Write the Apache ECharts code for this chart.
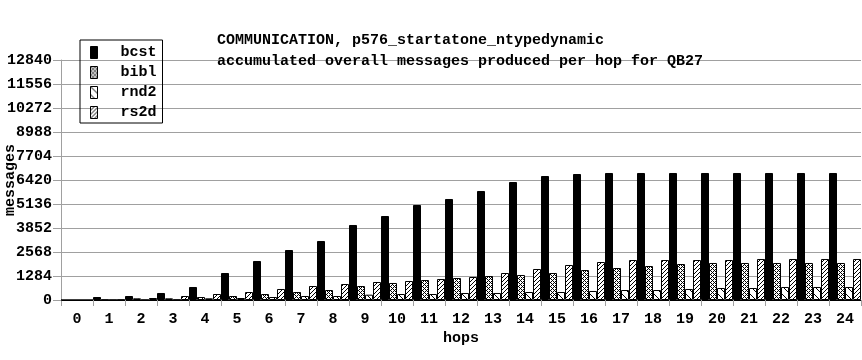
<!DOCTYPE html>
<html>
<head>
<meta charset="utf-8">
<script src="https://cdn.jsdelivr.net/npm/echarts@6/dist/echarts.min.js"></script>
<style>html,body{margin:0;padding:0;background:#fff}#c{width:862px;height:360px}</style>
</head>
<body>
<div id="c"></div>
<script>
const categories = ['0','1','2','3','4','5','6','7','8','9','10','11','12','13','14','15','16','17','18','19','20','21','22','23','24'];
const seriesNames = ['bcst','bibl','rnd2','rs2d'];
const bcst = [0,160,214,375,696,1444,2087,2675,3157,4013,4494,5083,5404,5832,6313,6634,6741,6795,6795,6795,6795,6795,6795,6795,6795];
const bibl = [0,20,90,90,160,214,321,428,535,749,910,1070,1177,1284,1338,1444,1605,1712,1819,1926,1980,1980,1980,1980,1980];
const rnd2 = [0,10,10,20,90,107,160,214,214,285,321,321,375,375,428,428,482,535,535,589,642,642,696,696,696];
const rs2d = [0,20,107,214,321,428,589,749,856,963,1017,1124,1231,1444,1659,1873,2033,2140,2140,2140,2140,2194,2194,2194,2194];
const yTicks = [0,1284,2568,3852,5136,6420,7704,8988,10272,11556,12840];
const titleLines = ['COMMUNICATION, p576_startatone_ntypedynamic','accumulated overall messages produced per hop for QB27'];

const FONT = 'Liberation Mono';

function makePattern(size, test) {
  const cv = document.createElement('canvas');
  cv.width = size; cv.height = size;
  const ctx = cv.getContext('2d');
  ctx.fillStyle = '#fff';
  ctx.fillRect(0,0,size,size);
  ctx.fillStyle = '#000';
  for (let x = 0; x < size; x++) for (let y = 0; y < size; y++) if (test(x,y)) ctx.fillRect(x,y,1,1);
  return {image: cv, repeat: 'repeat'};
}
const patBibl = makePattern(4, (x,y) => ((x+y)%4===0) || (((x-y)%4+4)%4===0));
const patRnd2 = makePattern(8, (x,y) => x===y);
const patRs2d = makePattern(4, (x,y) => (x+y)%4===3);

const fills = ['#000', patBibl, patRnd2, patRs2d];
const dataArr = [bcst, bibl, rnd2, rs2d];

const chart = echarts.init(document.getElementById('c'), null, {renderer:'canvas'});
chart.setOption({
  animation: false,
  backgroundColor: '#fff',
  textStyle: {fontFamily: FONT, color: '#000'},
  title: {
    text: titleLines.join('\n'),
    left: 217, top: 30, padding: 0,
    textStyle: {fontFamily: FONT, fontSize: 15, fontWeight: 'bold', color: '#000', lineHeight: 21}
  },
  legend: {
    data: seriesNames,
    orient: 'vertical',
    left: 80, top: 40,
    itemWidth: 7, itemHeight: 12, itemGap: 5,
    padding: [5, 6, 3, 10],
    borderColor: '#000', borderWidth: 1,
    icon: 'rect',
    formatter: n => '  ' + n,
    textStyle: {fontFamily: FONT, fontSize: 15, fontWeight: 'bold', color: '#000', lineHeight: 12},
    itemStyle: {borderColor: '#000', borderWidth: 1}
  },
  grid: {left: 61, right: 1, top: 60, bottom: 60, containLabel: false, outerBoundsMode: 'none'},
  xAxis: {
    type: 'category',
    data: categories,
    name: 'hops', nameLocation: 'middle', nameGap: 31, nameMoveOverlap: false,
    nameTextStyle: {fontFamily: FONT, fontSize: 15, fontWeight: 'bold', color: '#000'},
    axisLine: {show: true, lineStyle: {color: '#000', width: 1}},
    axisTick: {show: true, length: 6, lineStyle: {color: '#a0a0a0'}},
    axisLabel: {margin: 12, fontFamily: FONT, fontSize: 15, fontWeight: 'bold', color: '#000', interval: 0},
    splitLine: {show: false}
  },
  yAxis: {
    type: 'value',
    min: yTicks[0], max: yTicks[yTicks.length-1], interval: yTicks[1]-yTicks[0],
    name: 'messages', nameLocation: 'middle', nameGap: 43, nameRotate: 90, nameMoveOverlap: false,
    nameTextStyle: {fontFamily: FONT, fontSize: 15, fontWeight: 'bold', color: '#000'},
    axisLine: {show: true, lineStyle: {color: '#a0a0a0'}},
    axisTick: {show: true, length: 8, lineStyle: {color: '#a0a0a0'}},
    axisLabel: {margin: 9, fontFamily: FONT, fontSize: 15, fontWeight: 'bold', color: '#000', formatter: v => String(v)},
    splitLine: {show: true, lineStyle: {color: '#a0a0a0', width: 1}}
  },
  series: seriesNames.map((n, i) => ({
    name: n,
    type: 'bar',
    data: dataArr[i],
    barGap: '0%',
    barCategoryGap: '0%',
    itemStyle: {color: fills[i], borderColor: '#000', borderWidth: 1},
    emphasis: {disabled: true}
  }))
});
</script>
</body>
</html>
